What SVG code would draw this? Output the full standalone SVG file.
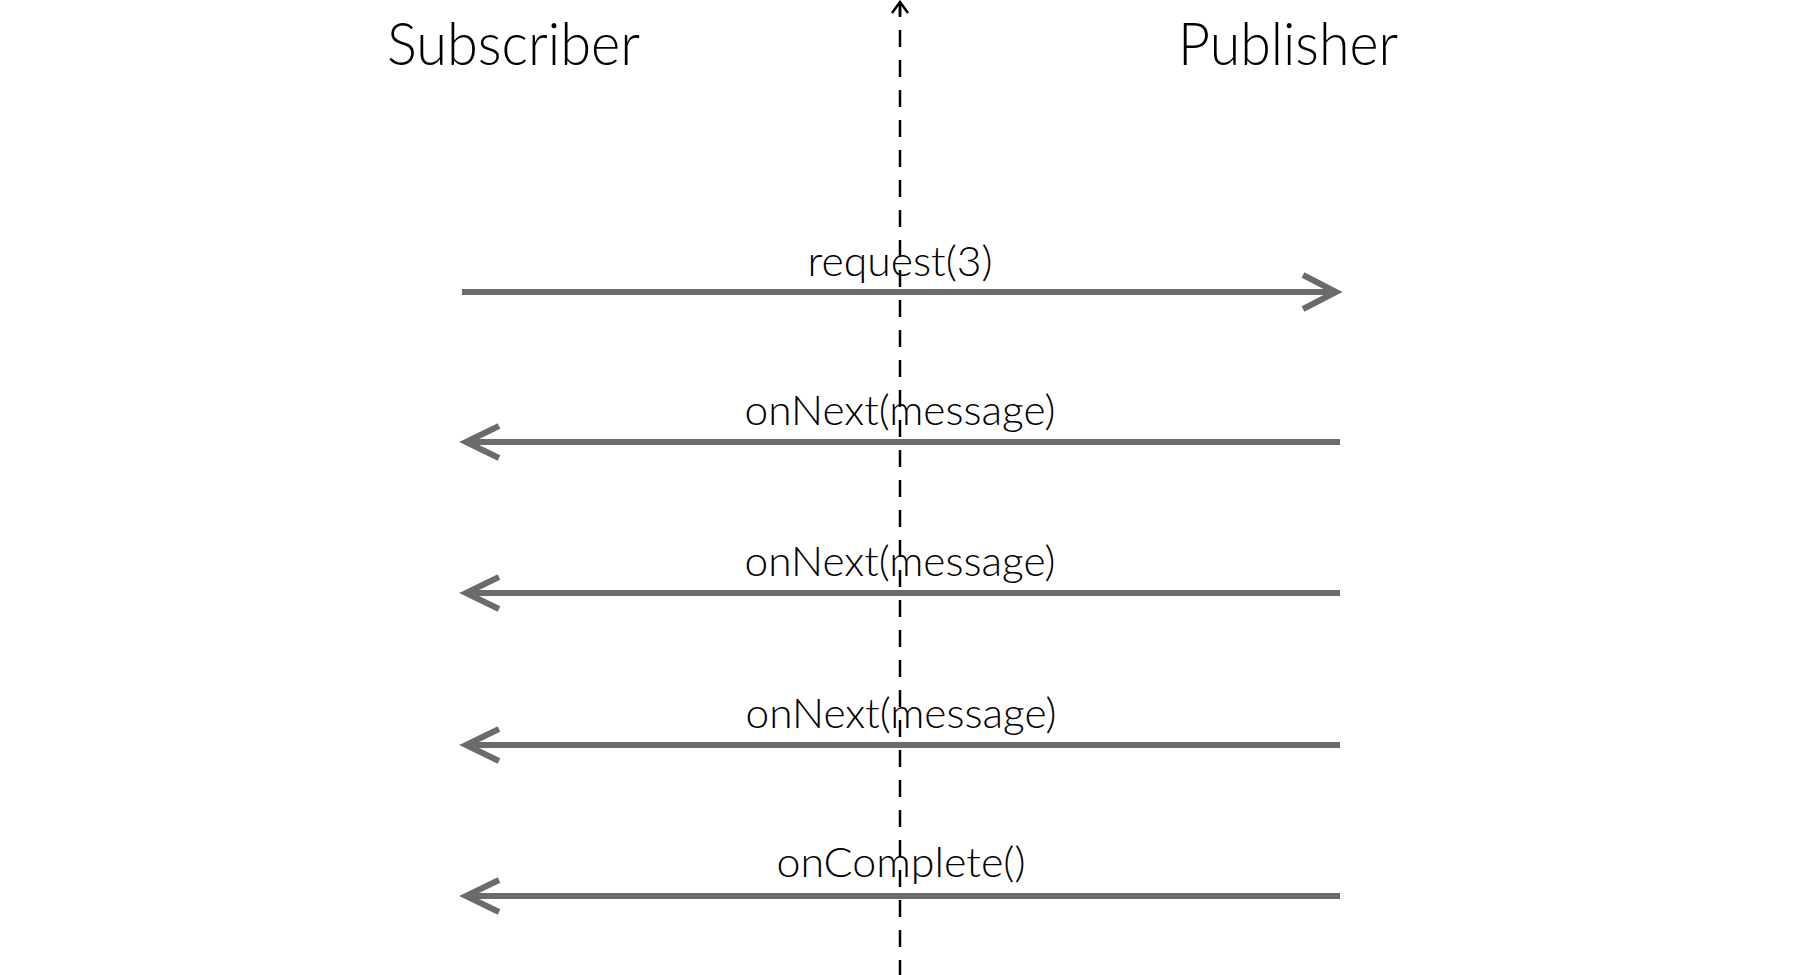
<svg xmlns="http://www.w3.org/2000/svg" width="1800" height="975" viewBox="0 0 1800 975">
<style>
.title{font-family:Lato,"Liberation Sans",sans-serif;font-size:60px;font-weight:300;fill:#000}
.lbl{font-family:Lato,"Liberation Sans",sans-serif;font-size:42px;font-weight:300;fill:#000;text-anchor:middle}
.msg{stroke:#6b6b6b;stroke-width:6;fill:none}
.head{stroke:#6b6b6b;stroke-width:6;fill:none;stroke-linecap:butt;stroke-linejoin:miter}
.axis{stroke:#000;stroke-width:2.5;fill:none}
</style>
<rect width="1800" height="975" fill="#fff"/>
<g id="subscriber"><text class="title" x="387" y="65" textLength="253" lengthAdjust="spacingAndGlyphs">Subscriber</text></g>
<g id="publisher"><text class="title" x="1178" y="65" textLength="220" lengthAdjust="spacingAndGlyphs">Publisher</text></g>
<g id="connectors">
<g id="time-axis">
<line class="axis" x1="900" y1="3" x2="900" y2="975" stroke-dasharray="17 13" stroke-dashoffset="-27"/>
<line class="axis" x1="900" y1="2" x2="900" y2="16"/>
<polyline class="axis" points="892,13 900,2 908,13"/>
</g>
<g id="m1"><line class="msg" x1="462" y1="292" x2="1336" y2="292"/><polyline class="head" points="1303,275 1336,292 1303,309"/></g>
<g id="m2"><line class="msg" x1="466" y1="442" x2="1340" y2="442"/><polyline class="head" points="499,426 466,442 499,458"/></g>
<g id="m3"><line class="msg" x1="466" y1="593" x2="1340" y2="593"/><polyline class="head" points="499,577 466,593 499,609"/></g>
<g id="m4"><line class="msg" x1="466" y1="745" x2="1340" y2="745"/><polyline class="head" points="499,729 466,745 499,761"/></g>
<g id="m5"><line class="msg" x1="466" y1="896" x2="1340" y2="896"/><polyline class="head" points="499,880 466,896 499,912"/></g>
</g>
<g id="labels">
<text class="lbl" x="900" y="276" textLength="185" lengthAdjust="spacingAndGlyphs">request(3)</text>
<text class="lbl" x="900" y="425" textLength="311" lengthAdjust="spacingAndGlyphs">onNext(message)</text>
<text class="lbl" x="900" y="576" textLength="311" lengthAdjust="spacingAndGlyphs">onNext(message)</text>
<text class="lbl" x="901" y="728" textLength="311" lengthAdjust="spacingAndGlyphs">onNext(message)</text>
<text class="lbl" x="901" y="877" textLength="249" lengthAdjust="spacingAndGlyphs">onComplete()</text>
</g>
</svg>
